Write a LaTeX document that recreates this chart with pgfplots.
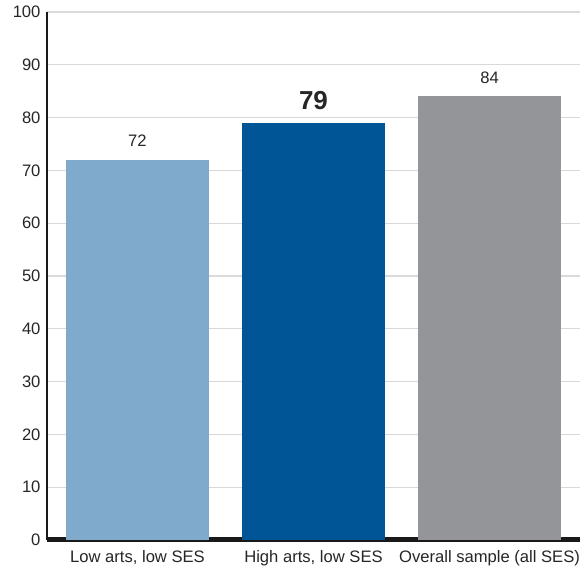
\documentclass[border=0pt]{standalone}
\usepackage{pgfplots}
\pgfplotsset{compat=1.18}
\usepackage{fontspec}
\setmainfont{Liberation Sans}
\definecolor{lightblue}{HTML}{7FAACB}
\definecolor{darkblue}{HTML}{005596}
\definecolor{midgray}{HTML}{939598}
\definecolor{gridgray}{HTML}{D9D9D9}
\begin{document}
\begin{tikzpicture}
\begin{axis}[
  scale only axis,
  width=533pt, height=528pt,
  xmin=-0.514, xmax=2.514,
  ymin=0, ymax=100,
  ytick={0,10,...,100},
  xtick={0,1,2},
  xticklabels={{Low arts, low SES},{High arts, low SES},{Overall sample (all SES)}},
  axis lines=left,
  x axis line style={-, line width=5pt, color=black!90},
  y axis line style={-, line width=1.5pt, color=black!90},
  major tick length=0pt,
  ymajorgrids,
  grid style={gridgray, line width=1.2pt},
  /pgf/number format/assume math mode=true,
  ticklabel style={font=\fontsize{16.6}{18}\selectfont, text=black!85},
  yticklabel style={xshift=-3pt},
  xticklabel style={anchor=base, yshift=-23pt},
  ybar, bar width=143pt, bar shift=0pt,
  nodes near coords,
  every node near coord/.append style={font=\fontsize{16.6}{18}\selectfont, text=black!85, anchor=base, inner sep=0pt, yshift=13pt},
  clip=false,
]
\addplot[fill=lightblue, draw=none] coordinates {(0,72)};
\addplot[fill=darkblue, draw=none, every node near coord/.append style={font=\fontsize{26}{28}\selectfont\bfseries}] coordinates {(1,79)};
\addplot[fill=midgray, draw=none] coordinates {(2,84)};
\end{axis}
\useasboundingbox ([xshift=-47pt,yshift=-32pt]current axis.south west) rectangle ([xshift=7pt,yshift=12pt]current axis.north east);
\end{tikzpicture}
\end{document}
